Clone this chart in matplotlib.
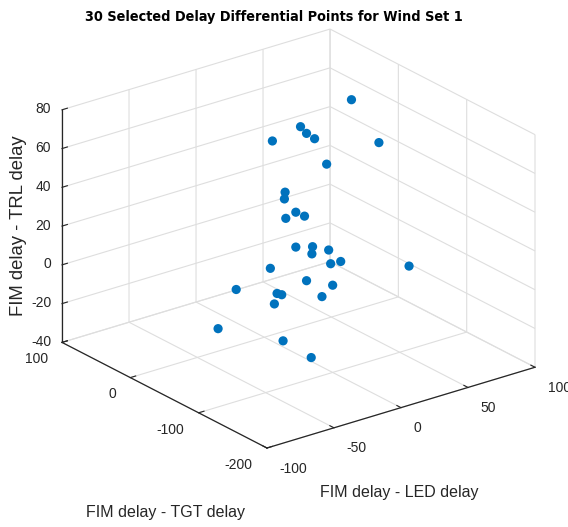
import numpy as np
import matplotlib
matplotlib.use("Agg")
import matplotlib.pyplot as plt
from mpl_toolkits.mplot3d import proj3d

# Delay differentials (ms) for the 30 selected points
led_diff = [65, 27, 6, 12, 6, 60, 21, -10, -36, -2, 16, -21, -2, -15, 10,
            48, 24, 6, -21, 57, 6, 0, -21, -16, -38, 43, -18, -60, -37, -16]
tgt_diff = [0, 0, -50, -50, 0, -50, -50, -50, -100, -50, 0, -100, -50, -100, -50,
            0, -50, -100, -50, -100, -50, -100, 0, -50, -100, 0, -50, -50, -100, -100]
trl_diff = [69, 63, 73, 69, 60, 57, 54, 46, 57, 34, 18, 45, 16, 28, 10,
            -5, 2, 16, 9, 3, -3, 5, -11, -5, 8, -28, -10, -14, -16, -29]

x_ticks = [-100, -50, 0, 50, 100]
y_ticks = [-200, -100, 0, 100]
z_ticks = [-40, -20, 0, 20, 40, 60, 80]

W, H = 568, 527
FONT = ["Liberation Sans", "DejaVu Sans"]
AX_COLOR = "#262626"
GRID_COLOR = "#dedede"
DOT_COLOR = "#0072BD"

plt.rcParams["font.family"] = FONT
plt.rcParams["axes.unicode_minus"] = False

fig = plt.figure(figsize=(W / 100, H / 100), dpi=100)
ax = fig.add_axes([0.1, 0.1, 0.8, 0.8], projection="3d")
ax.set_proj_type("ortho")
ax.view_init(elev=23.2, azim=-127.4)
ax.set_box_aspect((1, 1, 0.75))

ax.scatter(led_diff, tgt_diff, trl_diff, s=44, c=DOT_COLOR, depthshade=False,
           edgecolors="none", alpha=1)

ax.set_xlim(-100, 100)
ax.set_ylim(-200, 100)
ax.set_zlim(-40, 80)
ax.set_xticks(x_ticks)
ax.set_yticks(y_ticks)
ax.set_zticks(z_ticks)

label_style = {ax.xaxis: ("left", 4.0), ax.yaxis: ("right", 2.5),
               ax.zaxis: ("right", -3.5)}
for axis, (ha, pad) in label_style.items():
    axis.set_pane_color((1, 1, 1, 0))
    axis.pane.set_edgecolor(GRID_COLOR)
    axis.line.set_color(AX_COLOR)
    axis.line.set_linewidth(0.9)
    axis._axinfo["grid"]["color"] = GRID_COLOR
    axis._axinfo["grid"]["linewidth"] = 0.8
    axis._axinfo["tick"]["inward_factor"] = 0.0
    axis._axinfo["tick"]["outward_factor"] = 0.25
    axis._axinfo["tick"]["color"] = AX_COLOR
    axis.set_tick_params(labelsize=10, colors=AX_COLOR, pad=pad)
    for tick in axis.get_major_ticks():
        tick.label1.set_horizontalalignment(ha)
        tick.label1.set_verticalalignment("center")

ax.set_xlabel("")
ax.set_ylabel("")
ax.set_zlabel("")

fig.text(399 / W, 1 - 492 / H, "FIM delay - LED delay", ha="center", va="center",
         fontsize=11.5, color=AX_COLOR)
fig.text(165 / W, 1 - 512 / H, "FIM delay - TGT delay", ha="center", va="center",
         fontsize=11.5, color=AX_COLOR)
fig.text(19 / W, 1 - 226 / H, "FIM delay - TRL delay", ha="center", va="center",
         rotation=90, fontsize=13.3, color=AX_COLOR)

fig.text(274 / W, 1 - 17 / H, "30 Selected Delay Differential Points for Wind Set 1",
         ha="center", va="center", fontsize=10.4, fontweight="bold",
         family="DejaVu Sans", fontstretch="condensed", color="black")

# Place the box: left corner, right corner and front corner in pixels (top-down)
fig.canvas.draw()


def to_px(x, y, z):
    xs, ys, _ = proj3d.proj_transform(x, y, z, ax.get_proj())
    return ax.transData.transform((xs, ys))


pos = ax.get_position()
x0, y0, S = pos.x0 * W, pos.y0 * H, pos.width * W
p_left = to_px(-100, 100, -40)
p_right = to_px(100, -200, -40)
p_front = to_px(-100, -200, -40)
f_left = (p_left[0] - x0) / S
f_right = (p_right[0] - x0) / S
f_front_y = (p_front[1] - y0) / S

target_left_x, target_right_x, target_front_y = 62, 535, H - 448
S_new = (target_right_x - target_left_x) / (f_right - f_left)
x0_new = target_left_x - f_left * S_new
y0_new = target_front_y - f_front_y * S_new
ax.set_position([x0_new / W, y0_new / H, S_new / W, S_new / H])

fig.savefig("out.png", dpi=100)
